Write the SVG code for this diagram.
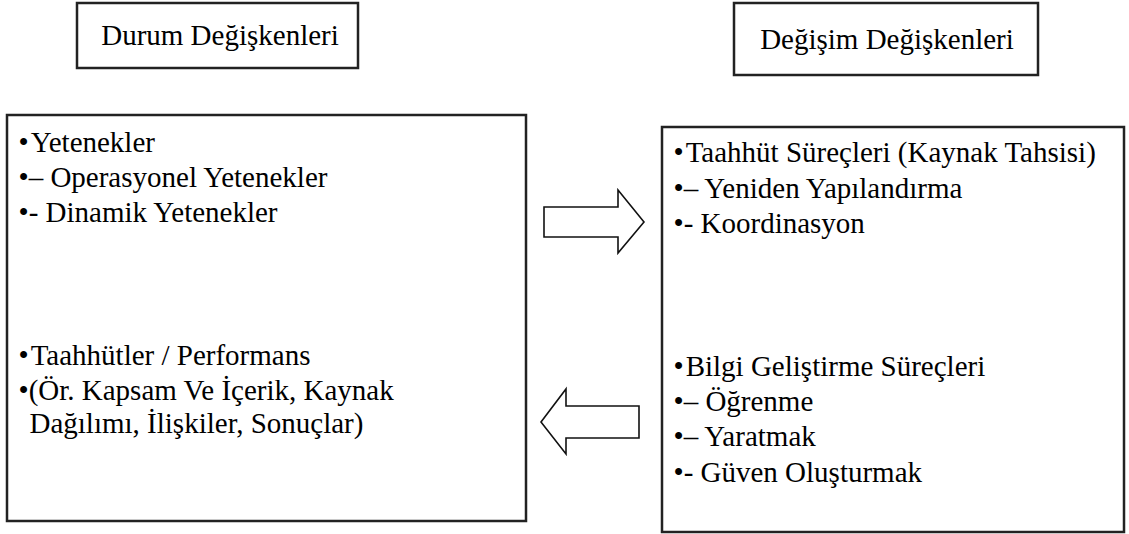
<svg xmlns="http://www.w3.org/2000/svg" width="1129" height="534" viewBox="0 0 1129 534">
  <style>
    .box { fill: #ffffff; stroke: #222222; stroke-width: 2.5; }
    .arrow { fill: #ffffff; stroke: #111111; stroke-width: 1.6; stroke-linejoin: miter; }
    .txt { font-family: 'Liberation Serif', 'Times New Roman', 'DejaVu Serif', serif; font-size: 29px; fill: #000000; }
    .head { text-anchor: middle; }
  </style>
  <rect width="1129" height="534" fill="#ffffff"/>

  <!-- column headers -->
  <g id="durum-header">
    <rect class="box" x="77" y="3" width="281" height="65"/>
    <text class="txt head" x="220" y="45">Durum Değişkenleri</text>
  </g>
  <g id="degisim-header">
    <rect class="box" x="734" y="3" width="304" height="72"/>
    <text class="txt head" x="887" y="49">Değişim Değişkenleri</text>
  </g>

  <!-- state variables -->
  <g id="durum-box" class="txt">
    <rect class="box" x="7" y="115" width="519" height="406"/>
    <text x="18.5" y="152">•<tspan dx="2">Yetenekler</tspan></text>
    <text x="18.5" y="187">•– Operasyonel Yetenekler</text>
    <text x="18.5" y="222">•- Dinamik Yetenekler</text>
    <text x="18.5" y="365">•<tspan dx="2">Taahhütler / Performans</tspan></text>
    <text x="18.5" y="400">•(Ör. Kapsam Ve İçerik, Kaynak</text>
    <text x="29.5" y="433">Dağılımı, İlişkiler, Sonuçlar)</text>
  </g>

  <!-- change variables -->
  <g id="degisim-box" class="txt">
    <rect class="box" x="662" y="127" width="462" height="405"/>
    <text x="673.5" y="162">•<tspan dx="2">Taahhüt Süreçleri (Kaynak Tahsisi)</tspan></text>
    <text x="673.5" y="198">•– Yeniden Yapılandırma</text>
    <text x="673.5" y="233">•- Koordinasyon</text>
    <text x="673.5" y="376">•<tspan dx="2">Bilgi Geliştirme Süreçleri</tspan></text>
    <text x="673.5" y="411">•– Öğrenme</text>
    <text x="673.5" y="446">•– Yaratmak</text>
    <text x="673.5" y="482">•- Güven Oluşturmak</text>
  </g>

  <!-- block arrows between the two columns -->
  <g id="connectors">
    <polygon class="arrow" points="544,207 618,207 618,190 644,222 618,253 618,237 544,237"/>
    <polygon class="arrow" points="639,406 566,406 566,389 541,422 566,454 566,438 639,438"/>
  </g>
</svg>
